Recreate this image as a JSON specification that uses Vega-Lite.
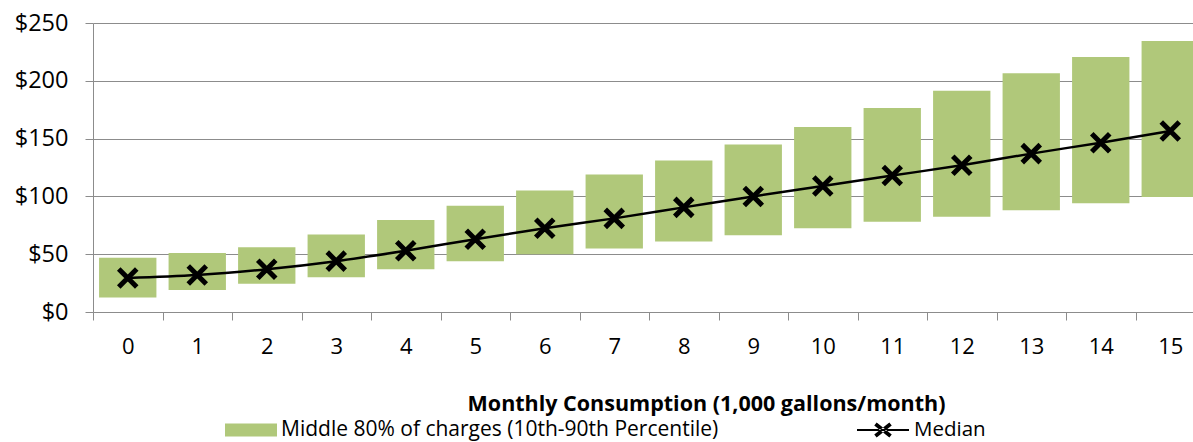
{
  "$schema": "https://vega.github.io/schema/vega-lite/v6.json",
  "width": 1100,
  "height": 289,
  "autosize": {"type": "none"},
  "padding": {"left": 93, "top": 23, "right": 0, "bottom": 130},
  "background": "white",
  "config": {
    "view": {"stroke": null},
    "font": "Open Sans",
    "legend": {"padding": 0}
  },
  "data": {
    "values": [
      {"usage": 0, "p10": 12.5, "p90": 47, "median": 29.5},
      {"usage": 1, "p10": 19, "p90": 51, "median": 32},
      {"usage": 2, "p10": 24.5, "p90": 56, "median": 37},
      {"usage": 3, "p10": 30, "p90": 67, "median": 44},
      {"usage": 4, "p10": 37, "p90": 79.5, "median": 53},
      {"usage": 5, "p10": 44, "p90": 92, "median": 63},
      {"usage": 6, "p10": 50, "p90": 105, "median": 72.5},
      {"usage": 7, "p10": 55, "p90": 119, "median": 81},
      {"usage": 8, "p10": 61, "p90": 131, "median": 90.5},
      {"usage": 9, "p10": 66.5, "p90": 145, "median": 100},
      {"usage": 10, "p10": 72.5, "p90": 160, "median": 109},
      {"usage": 11, "p10": 78, "p90": 176.5, "median": 118},
      {"usage": 12, "p10": 82.5, "p90": 191.5, "median": 127},
      {"usage": 13, "p10": 88, "p90": 206.5, "median": 137},
      {"usage": 14, "p10": 94, "p90": 220.5, "median": 146.5},
      {"usage": 15, "p10": 99.5, "p90": 234.5, "median": 156.5}
    ]
  },
  "encoding": {
    "x": {
      "field": "usage",
      "type": "ordinal",
      "scale": {"range": [0, 1112], "paddingInner": 0.175, "paddingOuter": 0.0875},
      "axis": {
        "title": "Monthly Consumption (1,000 gallons/month)",
        "labelAngle": 0,
        "labelFontSize": 22,
        "labelColor": "black",
        "labelPadding": 16,
        "tickOffset": -34.75,
        "labelOffset": 34.75,
        "tickSize": 8,
        "tickColor": "#8c8c8c",
        "domainColor": "#8c8c8c",
        "titleFontSize": 21.5,
        "titleFontWeight": "bold",
        "titleColor": "black",
        "titleX": 613,
        "titleY": 98,
        "titleAlign": "center",
        "titleBaseline": "alphabetic"
      }
    }
  },
  "layer": [
    {
      "mark": {"type": "bar", "stroke": null},
      "encoding": {
        "y": {
          "field": "p10",
          "type": "quantitative",
          "scale": {"domain": [0, 250], "nice": false},
          "axis": {
            "title": null,
            "values": [0, 25, 50, 75, 100, 125, 150, 175, 200, 225, 250],
            "labelExpr": "datum.value % 50 === 0 ? '$' + datum.value : ''",
            "labelFontSize": 23.5,
            "labelColor": "black",
            "labelPadding": 17,
            "tickSize": 8,
            "tickColor": "#8c8c8c",
            "domainColor": "#8c8c8c",
            "grid": true,
            "gridColor": {"condition": {"test": "datum.value % 50 === 0", "value": "#8c8c8c"}, "value": "#c8c8c8"},
            "gridDash": {"condition": {"test": "datum.value % 50 === 0", "value": []}, "value": [2, 2]}
          }
        },
        "y2": {"field": "p90"},
        "color": {
          "datum": "Middle 80% of charges (10th-90th Percentile)",
          "type": "nominal",
          "scale": {"range": ["#b0c87a"]},
          "legend": {
            "title": null,
            "orient": "none",
            "legendX": 132,
            "legendY": 394,
            "symbolType": "M-1,-0.5H3V0.5H-1Z",
            "symbolSize": 676,
            "symbolStrokeWidth": 0,
            "symbolOpacity": 1,
            "labelOffset": 30,
            "labelFontSize": 21,
            "labelColor": "black",
            "labelLimit": 600
          }
        }
      }
    },
    {
      "mark": {"type": "line", "strokeWidth": 2.5, "interpolate": "monotone"},
      "encoding": {
        "y": {"field": "median", "type": "quantitative"},
        "stroke": {
          "datum": "Median",
          "type": "nominal",
          "scale": {"range": ["black"]},
          "legend": {
            "title": null,
            "orient": "none",
            "legendX": 764,
            "legendY": 394,
            "symbolType": "M-1,-0.08H3V0.08H-1Z M0.327,-0.342L1.487,0.578L1.673,0.342L0.513,-0.578Z M1.673,-0.342L0.513,0.578L0.327,0.342L1.487,-0.578Z",
            "symbolSize": 676,
            "labelOffset": 31,
            "labelFontSize": 20.5,
            "labelColor": "black",
            "encode": {
              "symbols": {
                "update": {
                  "fill": {"value": "black"},
                  "fillOpacity": {"value": 1},
                  "opacity": {"value": 1},
                  "stroke": {"value": "black"},
                  "strokeWidth": {"value": 0}
                }
              }
            }
          }
        }
      }
    },
    {
      "mark": {"type": "point", "shape": "M-1,-1L1,1M1,-1L-1,1", "filled": false, "stroke": "black", "strokeWidth": 5, "size": 324, "opacity": 1},
      "encoding": {
        "y": {"field": "median", "type": "quantitative"}
      }
    }
  ]
}
